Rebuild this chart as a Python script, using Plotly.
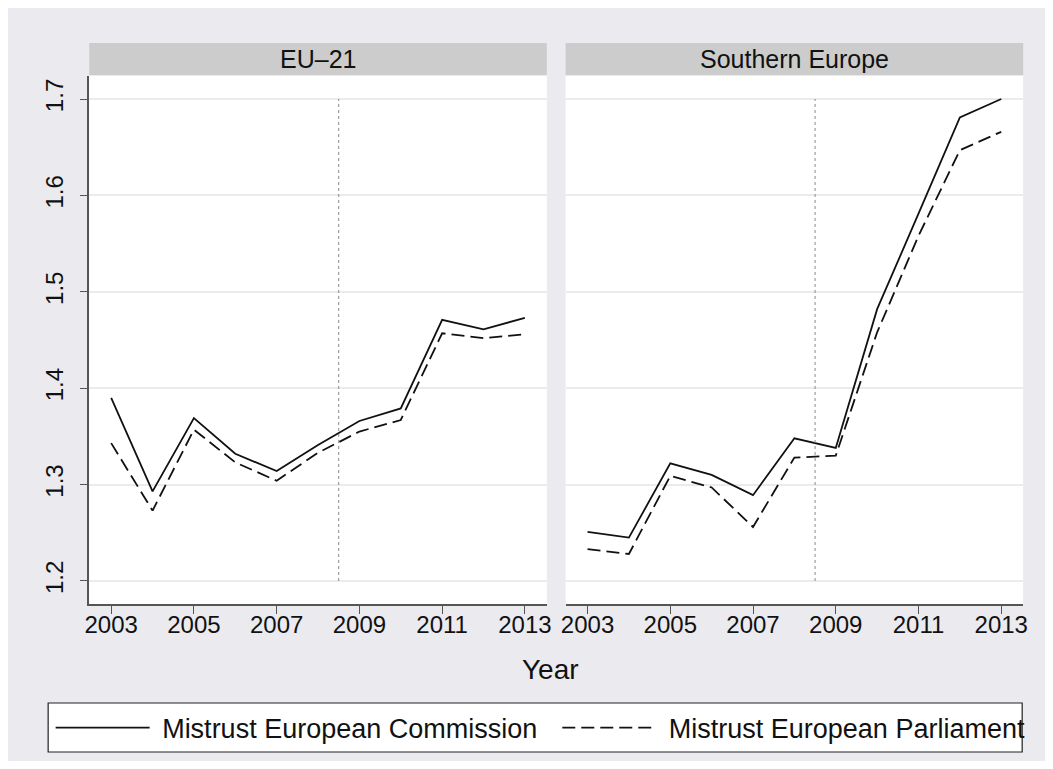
import plotly.graph_objects as go

# values
years = [2003, 2004, 2005, 2006, 2007, 2008, 2009, 2010, 2011, 2012, 2013]
eu21_commission = [1.390, 1.293, 1.369, 1.332, 1.314, 1.341, 1.366, 1.379, 1.471, 1.461, 1.473]
eu21_parliament = [1.343, 1.273, 1.357, 1.323, 1.304, 1.333, 1.355, 1.367, 1.457, 1.452, 1.456]
south_commission = [1.251, 1.245, 1.322, 1.310, 1.289, 1.348, 1.338, 1.482, 1.581, 1.681, 1.700]
south_parliament = [1.233, 1.228, 1.309, 1.297, 1.256, 1.328, 1.330, 1.458, 1.558, 1.647, 1.666]
panel_titles = ["EU\u201321", "Southern Europe"]
series_names = ["Mistrust European Commission", "Mistrust European Parliament"]
y_ticks = [1.2, 1.3, 1.4, 1.5, 1.6, 1.7]
x_ticks = [2003, 2005, 2007, 2009, 2011, 2013]
crisis_year = 2008.5

# the page body keeps its 8px margin, so the figure sits at (8, 8)
OFF = 8
W, H = 1037, 753
FONT = "Liberation Sans, Arial, Helvetica, sans-serif"
BG = "#EAEAEF"
LINE = "#111111"
DASH = "13px,6px"
NB = "\u00a0"


def px_x(v):
    # page pixel -> paper fraction
    return (v - OFF) / W


def px_y(v):
    return 1 - (v - OFF) / H


panels = [
    (eu21_commission, eu21_parliament, "x", "y", (85, 547)),
    (south_commission, south_parliament, "x2", "y2", (566, 1028)),
]
# legend labels, padded so the entries sit where Stata puts them
legend_labels = [NB + series_names[0] + NB * 2,
                 NB + series_names[1]]

fig = go.Figure()
for i, (comm, parl, xa, ya, _) in enumerate(panels):
    fig.add_trace(go.Scatter(
        x=years, y=comm, xaxis=xa, yaxis=ya, mode="lines",
        name=legend_labels[0], legendgroup="c", showlegend=(i == 0),
        line=dict(color=LINE, width=1.8),
    ))
    fig.add_trace(go.Scatter(
        x=years, y=parl, xaxis=xa, yaxis=ya, mode="lines",
        name=legend_labels[1], legendgroup="p", showlegend=(i == 0),
        line=dict(color=LINE, width=1.8, dash=DASH),
    ))

shapes = [
    # legend box
    dict(type="rect", xref="paper", yref="paper",
         x0=px_x(43.5), x1=px_x(1027), y0=px_y(752), y1=px_y(703),
         fillcolor="white", line=dict(color="#222222", width=1.2)),
]
annotations = []
for i, (_, _, xa, ya, (l, r)) in enumerate(panels):
    shapes.append(dict(type="rect", xref="paper", yref="paper",
                       x0=px_x(l), x1=px_x(r), y0=px_y(75), y1=px_y(43),
                       fillcolor="#CCCCCC", line=dict(width=0)))
    annotations.append(dict(text=panel_titles[i], xref="paper", yref="paper",
                            x=px_x((l + r) / 2), y=px_y(59), showarrow=False,
                            xanchor="center", yanchor="middle",
                            font=dict(size=25, color="#111111")))
    shapes.append(dict(type="line", xref=xa, yref=ya,
                       x0=crisis_year, x1=crisis_year, y0=1.2, y1=1.7,
                       line=dict(color="#888888", width=1, dash="dot")))

annotations.append(dict(text="Year", xref="paper", yref="paper",
                        x=px_x(551), y=px_y(669), showarrow=False,
                        xanchor="center", yanchor="middle",
                        font=dict(size=28, color="#111111")))

xaxis_common = dict(
    range=[2002.47, 2013.53], tickvals=x_ticks, ticks="outside", ticklen=8,
    tickcolor="#555555", showline=True, linecolor="#555555", linewidth=1.5,
    showgrid=False, zeroline=False, tickfont=dict(size=24, color="#111111"),
    ticklabelstandoff=-10,
)
yaxis_common = dict(
    range=[1.1761, 1.7239], tickvals=y_ticks, showgrid=True,
    gridcolor="#EBEBEB", gridwidth=1.5, zeroline=False,
    domain=[px_y(604), px_y(76)],
)

fig.update_layout(
    width=W, height=H,
    margin=dict(l=0, r=0, t=0, b=0),
    paper_bgcolor=BG, plot_bgcolor="white",
    font=dict(family=FONT, color="#111111"),
    xaxis={**xaxis_common, "domain": [px_x(85), px_x(547)], "anchor": "y"},
    xaxis2={**xaxis_common, "domain": [px_x(566), px_x(1028)], "anchor": "y2"},
    yaxis={**yaxis_common, "anchor": "x", "ticks": "outside", "ticklen": 8,
           "tickcolor": "#555555", "showline": True, "linecolor": "#555555",
           "linewidth": 1.5, "tickangle": -90, "ticklabelstandoff": 7,
           "tickfont": dict(size=24, color="#111111")},
    yaxis2={**yaxis_common, "anchor": "x2", "matches": "y",
            "showticklabels": False, "showline": False},
    shapes=shapes,
    annotations=annotations,
    showlegend=True,
    legend=dict(orientation="h", x=px_x(46), y=px_y(728),
                xanchor="left", yanchor="middle",
                bgcolor="rgba(0,0,0,0)", borderwidth=0,
                itemwidth=94, traceorder="normal",
                font=dict(size=27, color="#111111")),
    hovermode="closest",
)

fig.write_html("out.html")
